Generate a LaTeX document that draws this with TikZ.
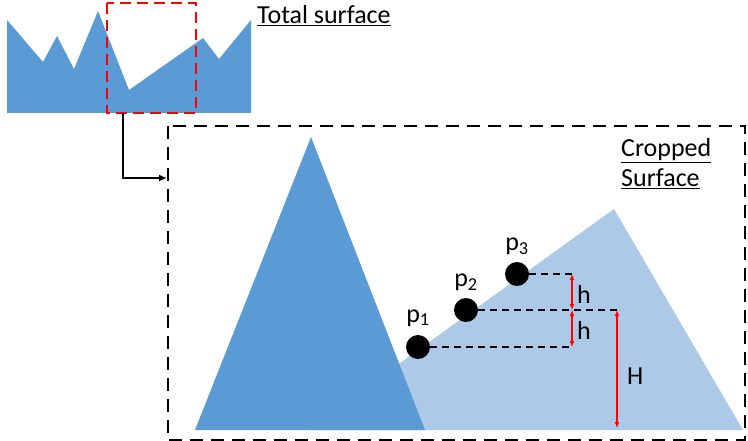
\documentclass[tikz,border=0pt]{standalone}
\usepackage{fontspec}
\setmainfont{Carlito}
\usetikzlibrary{arrows.meta}
\definecolor{darkblue}{HTML}{5B9BD5}
\definecolor{lightblue}{HTML}{ADC9E8}
\definecolor{redline}{HTML}{FF0000}
\tikzset{
  dot/.style={circle,fill=black,inner sep=0pt,minimum size=24pt},
  lbl/.style={font=\fontsize{26}{30}\selectfont,inner sep=0pt},
  guide/.style={black,line width=1.8pt,dash pattern=on 7pt off 5pt},
  meas/.style={redline,line width=1.8pt,{Latex[length=6pt,width=5pt]}-{Latex[length=6pt,width=5pt]}},
}
\begin{document}
\begin{tikzpicture}[x=1pt,y=-1pt]
\useasboundingbox (0,0) rectangle (748,441);
% total surface
\fill[darkblue] (7,20) -- (43,62) -- (57,36) -- (74,69) -- (98,11) -- (129,90) -- (203,38) -- (219,59) -- (251,20) -- (251,113) -- (7,113) -- cycle;
\draw[redline,line width=2.3pt,dash pattern=on 11pt off 6pt] (107,3) rectangle (196,113);
\node[lbl,anchor=base west] (total) at (257,24) {\underline{Total surface}};
% cropped box
\draw[black,line width=2pt,dash pattern=on 13pt off 8pt] (168,126) rectangle (745,440);
\coordinate (crop) at (123,113);
\coordinate (boxin) at (167,178);
\draw[black,line width=2pt,-{Latex[length=8pt,width=7pt]}] (crop) |- (boxin);
\node[lbl,anchor=base west] (cropped) at (621,157) {\underline{Cropped}};
\node[lbl,anchor=base west] (surf) at (621,187) {\underline{Surface}};
% triangles
\fill[lightblue] (614,209) -- (743,430) -- (307,430) -- cycle;
\fill[darkblue] (311,137) -- (425,430) -- (195,430) -- cycle;
% points
\node[dot] (p1) at (418,347) {};
\node[dot] (p2) at (466,310) {};
\node[dot] (p3) at (517,274) {};
\node[lbl,anchor=base] (l1) at (418,322) {p\textsubscript{1}};
\node[lbl,anchor=base] (l2) at (466,287) {p\textsubscript{2}};
\node[lbl,anchor=base] (l3) at (517,251) {p\textsubscript{3}};
\coordinate (e3) at (572,274);
\coordinate (e2) at (617,310);
\coordinate (m2) at (572,310);
\coordinate (e1) at (572,347);
\coordinate (base) at (617,428);
\draw[guide] (p3) -- (e3);
\draw[guide] (p2) -- (e2);
\draw[guide] (p1) -- (e1);
\draw[meas] (e3) -- (m2);
\draw[meas] (m2) -- (e1);
\draw[meas] (e2) -- (base);
\node[lbl,anchor=base west] (h1) at (577,303) {h};
\node[lbl,anchor=base west] (h2) at (577,339) {h};
\node[lbl,anchor=base west] (H) at (627,384) {H};
\end{tikzpicture}
\end{document}
